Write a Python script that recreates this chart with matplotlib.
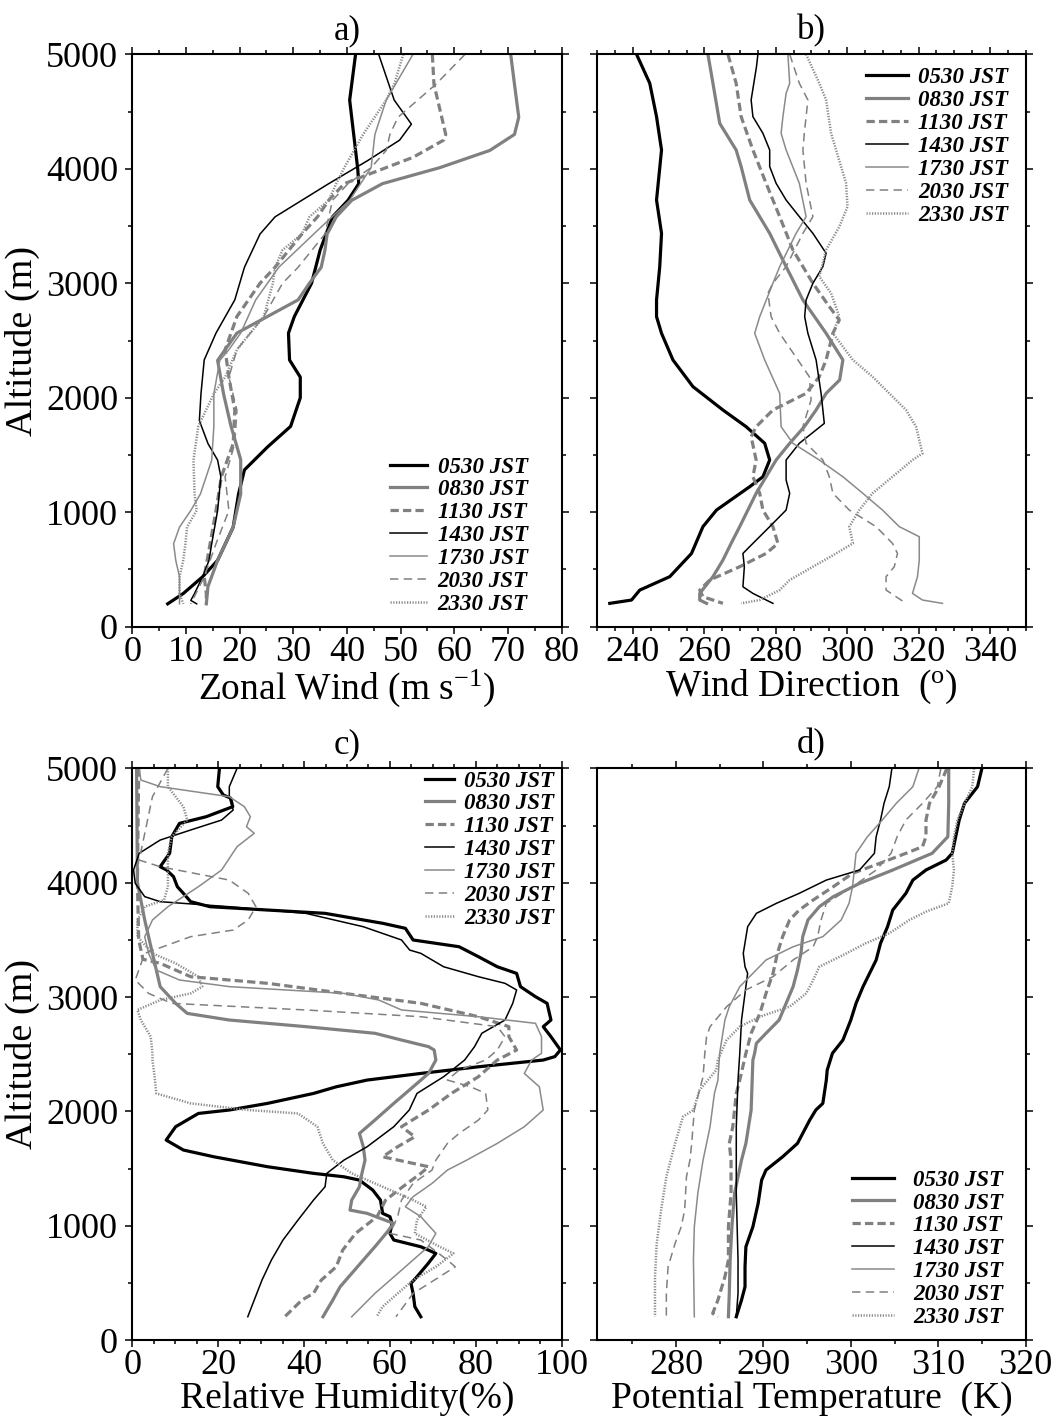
import matplotlib
matplotlib.use("Agg")
import matplotlib.pyplot as plt
from matplotlib.ticker import MultipleLocator

plt.rcParams['font.family'] = ['Liberation Serif', 'DejaVu Serif']
plt.rcParams['mathtext.fontset'] = 'custom'
plt.rcParams['mathtext.rm'] = 'Liberation Serif'
plt.rcParams['mathtext.it'] = 'Liberation Serif:italic'
plt.rcParams['mathtext.bf'] = 'Liberation Serif:bold'

times = ["0530 JST", "0830 JST", "1130 JST", "1430 JST", "1730 JST", "2030 JST", "2330 JST"]

# ---------------- a) zonal wind (m/s) : (values, altitudes) ----------------
zonal_wind = {
    "0530 JST": ([41.6, 40.5, 42.0, 42.2, 40.2, 37.3, 35.0, 33.4, 30.2, 29.1, 29.3, 31.3, 31.3, 29.5, 25.2,
                  20.9, 19.8, 18.8, 15.9, 13.1, 9.5, 6.6],
                 [5000, 4600, 4000, 3870, 3725, 3580, 3290, 3000, 2710, 2565, 2330, 2180, 2000, 1750, 1570,
                  1370, 1160, 870, 580, 436, 290, 200]),
    "0830 JST": ([70.5, 71.2, 72.0, 71.2, 66.6, 57.3, 46.6, 40.9, 38.0, 36.3, 35.9, 35.2, 33.0, 30.9, 25.2,
                  19.5, 17.3, 15.9, 17.0, 18.4, 20.2, 20.2, 18.8, 15.9, 14.1, 13.8],
                 [5000, 4740, 4450, 4300, 4160, 4010, 3870, 3725, 3580, 3430, 3290, 3140, 3000, 2855, 2710,
                  2565, 2420, 2326, 2035, 1750, 1460, 1160, 870, 580, 350, 200]),
    "1130 JST": ([55.9, 56.2, 58.4, 58.0, 52.3, 44.5, 39.5, 36.6, 34.5, 31.6, 26.6, 23.8, 19.5, 17.3, 18.0,
                  19.1, 18.8, 16.6, 15.6, 14.5, 13.4, 13.8, 13.8],
                 [5000, 4740, 4300, 4250, 4100, 3960, 3870, 3725, 3580, 3430, 3140, 3000, 2710, 2420, 2180,
                  1890, 1600, 1310, 1015, 725, 436, 290, 200]),
    "1430 JST": ([45.9, 48.8, 52.0, 49.8, 43.8, 36.6, 31.6, 26.6, 23.8, 20.9, 19.1, 15.6, 13.4, 12.8, 12.5,
                  14.1, 15.9, 16.5, 15.9, 14.8, 14.3, 13.1, 11.6, 10.9, 12.0],
                 [5000, 4600, 4390, 4250, 4070, 3870, 3725, 3580, 3430, 3140, 2855, 2565, 2330, 2035, 1800,
                  1600, 1455, 1310, 1015, 725, 580, 436, 290, 230, 200]),
    "1730 JST": ([52.3, 47.3, 45.2, 44.5, 40.5, 33.8, 27.3, 23.0, 20.2, 18.0, 16.3, 15.2, 15.2, 14.8, 12.7,
                  10.9, 8.8, 7.7, 8.1, 8.8, 8.8, 8.8],
                 [5000, 4600, 4300, 4010, 3725, 3430, 3140, 2855, 2565, 2420, 2326, 2035, 1750, 1455, 1160,
                  1015, 870, 725, 580, 436, 290, 200]),
    "2030 JST": ([62.0, 56.6, 49.5, 48.0, 47.3, 44.5, 40.2, 37.3, 35.9, 30.9, 28.0, 24.5, 19.5, 18.0, 19.5,
                  19.1, 17.3, 18.0, 15.6, 13.4, 10.9],
                 [5000, 4740, 4450, 4300, 4160, 4010, 3870, 3725, 3430, 3140, 3000, 2710, 2420, 2180, 1890,
                  1600, 1310, 1015, 725, 436, 200]),
    "2330 JST": ([50.5, 48.8, 47.3, 43.0, 39.5, 38.0, 36.6, 33.0, 31.6, 28.0, 26.6, 26.2, 24.5, 19.5, 17.3,
                  15.2, 12.3, 11.4, 11.6, 12.0, 10.2, 9.9, 9.5, 8.8, 8.8, 9.5],
                 [5000, 4740, 4600, 4300, 4010, 3870, 3725, 3580, 3430, 3290, 3140, 3000, 2710, 2420, 2180,
                  2035, 1750, 1455, 1160, 1015, 870, 725, 580, 436, 290, 200]),
}

# ---------------- b) wind direction (deg) ----------------
wind_direction = {
    "0530 JST": ([241.0, 244.7, 246.6, 248.0, 246.6, 248.0, 247.5, 246.6, 246.6, 248.0, 251.2, 256.8, 265.2,
                  271.7, 276.9, 278.3, 276.4, 272.7, 263.4, 259.6, 256.4, 250.3, 241.9, 239.6, 233.5],
                 [5000, 4747, 4455, 4164, 3727, 3436, 3145, 2854, 2708, 2563, 2330, 2097, 1893, 1747, 1602,
                  1456, 1310, 1223, 1019, 874, 640, 437, 320, 233, 204]),
    "0830 JST": ([261.0, 262.4, 264.3, 268.9, 270.3, 272.7, 278.3, 282.9, 287.6, 294.1, 298.8, 297.9, 294.1,
                  291.3, 288.0, 283.9, 280.1, 274.5, 269.9, 267.5, 265.2, 262.4, 258.7, 258.7, 260.6],
                 [5000, 4747, 4397, 4164, 4019, 3727, 3436, 3145, 2854, 2563, 2330, 2155, 2038, 1893, 1747,
                  1602, 1456, 1165, 874, 728, 582, 437, 291, 233, 204]),
    "1130 JST": ([266.6, 268.9, 270.3, 273.6, 277.3, 281.1, 284.8, 290.4, 295.0, 297.8, 296.0, 294.1, 292.2,
                  288.5, 279.2, 274.5, 273.1, 274.5, 273.6, 275.5, 276.4, 279.2, 280.6, 277.3, 269.9, 261.5,
                  258.7, 259.6, 265.2],
                 [5000, 4747, 4455, 4164, 3873, 3582, 3291, 3000, 2796, 2679, 2563, 2330, 2184, 2038, 1893,
                  1747, 1660, 1456, 1310, 1165, 1019, 874, 728, 640, 524, 408, 320, 262, 204]),
    "1430 JST": ([275.0, 274.6, 273.1, 273.6, 276.4, 278.3, 278.3, 280.1, 282.9, 286.6, 290.4, 294.1, 293.2,
                  290.4, 288.5, 288.1, 289.0, 291.3, 292.7, 293.6, 286.6, 282.9, 282.9, 283.9, 282.9, 278.3,
                  273.6, 270.8, 271.2, 270.8, 273.6, 279.2],
                 [5000, 4892, 4601, 4455, 4310, 4164, 4019, 3873, 3727, 3582, 3436, 3262, 3145, 3000, 2854,
                  2708, 2563, 2330, 2038, 1776, 1602, 1456, 1281, 1165, 1019, 874, 728, 640, 524, 349, 291,
                  204]),
    "1730 JST": ([283.4, 283.9, 282.9, 282.0, 281.5, 282.9, 286.6, 288.5, 285.7, 281.1, 279.2, 275.5, 274.1,
                  276.9, 281.1, 281.5, 284.8, 292.2, 298.8, 304.4, 309.9, 314.6, 320.2, 320.2, 319.7, 318.3,
                  321.1, 326.7],
                 [5000, 4747, 4659, 4455, 4310, 4164, 3873, 3582, 3436, 3145, 3000, 2708, 2563, 2330, 2038,
                  1747, 1602, 1456, 1310, 1165, 1019, 874, 786, 582, 437, 291, 233, 204]),
    "2030 JST": ([283.9, 286.6, 289.0, 288.0, 287.6, 288.5, 290.4, 287.6, 282.9, 279.2, 277.8, 278.7, 281.1,
                  286.2, 289.4, 289.9, 287.6, 288.5, 293.2, 295.0, 296.0, 300.6, 308.1, 312.7, 314.1, 313.2,
                  310.9, 310.9, 316.5],
                 [5000, 4747, 4601, 4310, 4164, 3873, 3582, 3436, 3145, 3000, 2913, 2708, 2563, 2330, 2184,
                  1980, 1747, 1602, 1456, 1310, 1165, 1019, 874, 728, 640, 524, 437, 320, 204]),
    "2330 JST": ([288.5, 292.2, 294.1, 295.5, 298.3, 299.7, 300.1, 297.8, 294.1, 292.2, 295.5, 297.8, 296.0,
                  301.6, 307.1, 311.8, 316.5, 319.3, 321.1, 318.3, 312.7, 307.1, 303.4, 300.6, 301.6, 296.9,
                  290.4, 283.9, 281.1, 275.5, 270.3],
                 [5000, 4747, 4601, 4310, 4019, 3873, 3669, 3494, 3291, 3058, 2913, 2708, 2563, 2330, 2184,
                  2038, 1893, 1747, 1514, 1456, 1310, 1165, 1019, 874, 728, 640, 524, 408, 320, 233, 204]),
}

# ---------------- c) relative humidity (%) ----------------
relative_humidity = {
    "0530 JST": ([20.3, 19.9, 21.2, 22.9, 23.4, 17.2, 11.0, 9.2, 8.7, 6.5, 8.0, 9.6, 10.5, 11.9, 13.6,
                  18.1, 31.5, 44.9, 58.3, 63.6, 65.4, 76.1, 80.6, 85.0, 89.5, 90.4, 93.9, 96.6, 97.5, 95.7,
                  97.5, 99.7, 98.4, 95.7, 80.6, 67.2, 54.7, 47.5, 42.2, 31.5, 22.6, 15.4, 10.1, 7.9, 11.9,
                  19.0, 31.5, 42.2, 49.3, 52.9, 56.0, 57.8, 58.3, 60.0, 60.5, 60.0, 60.9, 67.2, 70.7, 68.9,
                  66.3, 64.9, 65.4, 65.8, 67.2],
                 [5000, 4840, 4767, 4740, 4665, 4577, 4519, 4402, 4257, 4140, 4111, 4053, 3965, 3907, 3834,
                  3790, 3761, 3732, 3645, 3601, 3499, 3440, 3353, 3265, 3207, 3091, 3003, 2945, 2799, 2741,
                  2653, 2537, 2479, 2449, 2390, 2332, 2274, 2215, 2157, 2070, 2012, 1982, 1866, 1749, 1662,
                  1603, 1516, 1458, 1428, 1399, 1312, 1224, 1108, 1079, 1020, 933, 875, 816, 758, 670,
                  554, 496, 408, 292, 204]),
    "0830 JST": ([1.0, 1.2, 2.9, 4.7, 6.5, 10.1, 12.8, 22.6, 40.4, 56.5, 62.7, 69.0, 70.3, 70.7, 69.0,
                  65.4, 60.9, 56.5, 52.9, 53.8, 54.2, 53.3, 52.9, 51.1, 50.7, 54.7, 60.9, 59.1, 56.5, 53.8,
                  51.1, 48.4, 46.7, 44.4],
                 [5000, 4000, 3674, 3382, 3091, 2945, 2857, 2799, 2741, 2683, 2624, 2566, 2537, 2449, 2332,
                  2215, 2070, 1924, 1807, 1691, 1574, 1428, 1341, 1224, 1137, 1108, 1020, 933, 816, 700,
                  583, 466, 350, 204]),
    "1130 JST": ([1.5, 1.2, 1.5, 2.5, 6.5, 13.6, 31.5, 49.3, 67.2, 80.6, 87.7, 87.7, 89.5, 85.0, 80.6,
                  74.3, 69.0, 62.7, 65.8, 61.8, 58.3, 69.0, 67.2, 63.0, 59.0, 57.0, 52.0, 49.0, 47.5, 44.0,
                  42.2, 39.5, 35.5],
                 [5000, 4000, 3500, 3330, 3295, 3178, 3120, 3032, 2945, 2828, 2741, 2653, 2537, 2449, 2303,
                  2157, 2012, 1866, 1778, 1691, 1603, 1516, 1458, 1341, 1224, 1079, 933, 787, 641, 524,
                  408, 350, 204]),
    "1430 JST": ([24.4, 22.6, 22.6, 23.5, 20.8, 13.6, 6.5, 1.6, 0.3, 0.7, 2.9, 6.5, 22.6, 40.4, 53.8,
                  62.7, 64.6, 67.2, 72.5, 80.6, 86.8, 89.5, 88.6, 86.8, 81.4, 79.7, 77.4, 72.5, 66.3, 64.5,
                  60.9, 54.7, 49.3, 45.3, 44.9, 42.2, 38.6, 35.1, 32.4, 30.2, 28.4, 26.9],
                 [5000, 4840, 4752, 4636, 4548, 4461, 4373, 4257, 4111, 3994, 3878, 3834, 3790, 3732, 3615,
                  3499, 3411, 3382, 3265, 3178, 3120, 3062, 2945, 2799, 2683, 2566, 2449, 2303, 2157, 2012,
                  1866, 1691, 1574, 1458, 1341, 1224, 1050, 875, 700, 524, 350, 204]),
    "1730 JST": ([1.6, 2.0, 6.5, 22.6, 26.1, 27.5, 26.6, 28.4, 24.4, 20.8, 15.4, 8.3, 4.7, 2.9, 3.8,
                  5.6, 11.0, 22.6, 49.3, 57.4, 62.7, 80.6, 93.9, 95.3, 95.3, 93.0, 91.3, 94.8, 95.7, 91.3,
                  85.0, 77.9, 73.4, 69.8, 65.4, 63.6, 67.2, 70.7, 68.9, 63.6, 56.5, 51.1],
                 [5000, 4898, 4840, 4752, 4665, 4577, 4490, 4432, 4315, 4111, 3965, 3790, 3674, 3528, 3382,
                  3236, 3149, 3091, 3032, 2974, 2887, 2828, 2770, 2653, 2508, 2449, 2332, 2215, 2012, 1866,
                  1720, 1574, 1487, 1370, 1254, 1166, 1079, 933, 816, 641, 408, 204]),
    "2030 JST": ([8.3, 4.7, 1.6, 6.5, 22.6, 27.0, 28.8, 27.0, 23.5, 13.6, 2.9, 0.7, 3.8, 9.2, 40.4,
                  67.2, 85.0, 86.8, 85.0, 82.3, 76.1, 73.4, 78.8, 82.3, 82.8, 80.6, 76.1, 73.4, 70.7, 69.8,
                  65.4, 62.7, 61.8, 60.0, 67.2, 73.4, 75.2, 71.6, 65.4, 61.4],
                 [5000, 4752, 4198, 4140, 4023, 3907, 3790, 3674, 3586, 3528, 3382, 3149, 3032, 2945, 2887,
                  2828, 2741, 2653, 2537, 2449, 2361, 2274, 2215, 2157, 2012, 1924, 1807, 1720, 1574, 1487,
                  1370, 1224, 1079, 933, 875, 700, 641, 554, 408, 204]),
    "2330 JST": ([8.3, 8.3, 11.9, 12.8, 9.2, 8.3, 8.3, 7.4, 2.9, 1.2, 1.2, 4.7, 10.1, 15.4, 16.3,
                  13.6, 6.5, 1.2, 2.0, 4.3, 4.7, 4.7, 5.2, 5.6, 13.6, 27.0, 38.6, 43.1, 44.4, 46.7,
                  51.1, 58.3, 65.4, 68.5, 66.3, 65.8, 71.6, 74.8, 70.7, 65.4, 61.8, 58.3, 56.9],
                 [5000, 4840, 4665, 4548, 4402, 4257, 3965, 3849, 3790, 3674, 3528, 3382, 3295, 3178, 3091,
                  3032, 2974, 2887, 2799, 2653, 2508, 2449, 2303, 2157, 2070, 2012, 1982, 1866, 1720, 1574,
                  1458, 1341, 1224, 1166, 1050, 933, 816, 758, 641, 524, 408, 292, 204]),
}

# ---------------- d) potential temperature (K) ----------------
potential_temperature = {
    "0530 JST": ([315.0, 314.5, 313.0, 312.4, 312.0, 311.6, 310.9, 308.6, 307.1, 306.3, 304.8, 304.2, 303.4,
                  302.9, 301.4, 300.6, 300.0, 299.1, 297.9, 297.3, 297.2, 296.8, 296.0, 295.3, 293.9, 292.2,
                  290.3, 289.8, 289.4, 288.8, 288.0, 287.9, 287.9, 287.5, 286.9],
                 [5000, 4840, 4694, 4548, 4402, 4257, 4198, 4111, 4023, 3907, 3761, 3615, 3470, 3324, 3091,
                  2945, 2799, 2624, 2508, 2361, 2274, 2070, 2012, 1924, 1720, 1603, 1487, 1399, 1195, 991,
                  816, 641, 466, 350, 204]),
    "0830 JST": ([311.2, 311.2, 311.1, 309.3, 304.8, 301.0, 298.0, 296.4, 295.1, 294.5, 294.3, 293.9, 293.4,
                  292.6, 291.8, 290.3, 289.2, 289.0, 288.8, 288.6, 288.0, 287.5, 287.1, 286.7, 286.4, 286.2,
                  286.1, 286.0],
                 [5000, 4694, 4402, 4257, 4111, 3994, 3878, 3790, 3674, 3528, 3382, 3236, 3091, 2945, 2799,
                  2683, 2595, 2508, 2449, 2012, 1720, 1574, 1428, 1283, 991, 700, 408, 204]),
    "1130 JST": ([311.0, 310.1, 309.0, 308.6, 308.6, 308.2, 306.3, 303.3, 300.2, 298.0, 295.7, 294.1, 293.0,
                  292.2, 291.6, 291.1, 290.3, 289.6, 288.6, 288.0, 287.3, 286.9, 286.5, 286.1, 286.3, 286.3,
                  286.0, 286.0, 285.6, 284.8, 284.2, 284.8],
                 [5000, 4840, 4694, 4548, 4402, 4315, 4257, 4169, 4082, 3965, 3849, 3761, 3674, 3528, 3382,
                  3207, 3032, 2857, 2683, 2508, 2274, 2157, 1866, 1720, 1574, 1283, 991, 700, 554, 350, 233,
                  204]),
    "1430 JST": ([304.7, 304.4, 303.8, 303.4, 302.9, 302.7, 301.0, 297.2, 294.1, 291.5, 289.2, 288.2, 287.7,
                  287.9, 288.2, 288.0, 287.5, 287.3, 287.1, 286.9, 286.9, 287.1, 287.1, 286.9],
                 [5000, 4840, 4694, 4548, 4402, 4257, 4111, 4023, 3907, 3820, 3732, 3615, 3382, 3265, 3207,
                  3091, 2799, 2508, 2274, 1866, 1283, 700, 408, 204]),
    "1730 JST": ([307.8, 307.1, 305.2, 303.6, 301.9, 300.6, 300.4, 300.2, 299.8, 298.9, 296.8, 293.4, 290.3,
                  288.8, 287.3, 286.1, 285.6, 285.0, 284.8, 284.4, 283.9, 283.1, 282.5, 282.1, 282.0, 282.1],
                 [5000, 4840, 4694, 4548, 4402, 4257, 4111, 3965, 3820, 3674, 3528, 3440, 3324, 3207, 3091,
                  2916, 2799, 2508, 2274, 2157, 1866, 1574, 1283, 991, 700, 204]),
    "2030 JST": ([310.3, 309.9, 308.2, 306.3, 305.3, 304.6, 302.9, 300.2, 297.2, 296.6, 296.2, 295.7, 293.4,
                  291.1, 288.0, 285.8, 283.9, 283.5, 283.3, 283.1, 282.1, 281.8, 281.6, 281.2, 281.0, 280.6,
                  279.9, 279.1, 278.9, 278.9],
                 [5000, 4840, 4694, 4548, 4402, 4257, 4111, 3965, 3820, 3674, 3528, 3440, 3324, 3178, 3062,
                  2916, 2741, 2653, 2508, 2303, 2012, 1720, 1574, 1428, 1137, 991, 845, 641, 408, 204]),
    "2330 JST": ([314.1, 313.9, 313.0, 312.2, 311.8, 311.6, 311.8, 311.6, 311.2, 308.6, 306.7, 304.4, 301.7,
                  299.5, 296.4, 295.7, 294.9, 293.0, 289.6, 287.3, 285.8, 284.8, 284.6, 282.7, 282.0, 280.8,
                  279.9, 278.9, 278.3, 277.8, 277.6, 277.6],
                 [5000, 4840, 4694, 4548, 4402, 4257, 4111, 3965, 3820, 3747, 3674, 3557, 3470, 3382, 3265,
                  3149, 3032, 2916, 2828, 2741, 2624, 2449, 2361, 2186, 2012, 1953, 1720, 1428, 1137, 845,
                  554, 204]),
}

GRAY = "#808080"
line_styles = {
    "0530 JST": dict(color="black", lw=2.3, ls="-"),
    "0830 JST": dict(color=GRAY, lw=2.3, ls="-"),
    "1130 JST": dict(color=GRAY, lw=2.3, ls=(0, (2.6, 1.3))),
    "1430 JST": dict(color="black", lw=1.1, ls="-"),
    "1730 JST": dict(color="#8a8a8a", lw=1.1, ls="-"),
    "2030 JST": dict(color=GRAY, lw=1.1, ls=(0, (5.5, 3.5))),
    "2330 JST": dict(color="#8a8a8a", lw=1.8, ls=(0, (0.5, 0.6))),
}

fig = plt.figure(figsize=(10.59, 14.25), dpi=100)

panels = [
    dict(data=zonal_wind, rect=[0.1249, 0.5602, 0.4055, 0.4017], xlim=(0, 80), major=10, minor=5,
         xlabel="Zonal Wind (m s$^{-1}$)", title="a)", ylab=True,
         leg=dict(anchor=(0.600, 0.2973), hl=1.6, pad=0.48)),
    dict(data=wind_direction, rect=[0.5640, 0.5602, 0.4045, 0.4017], xlim=(230, 350), major=20, minor=5,
         xlabel="Wind Direction  ($^{\\rm o}$)", title="b)", ylab=False,
         leg=dict(anchor=(0.627, 0.977), hl=1.83, pad=0.44)),
    dict(data=relative_humidity, rect=[0.1249, 0.0596, 0.4055, 0.4012], xlim=(0, 100), major=20, minor=5,
         xlabel="Relative Humidity(%)", title="c)", ylab=True,
         leg=dict(anchor=(0.682, 0.9962), hl=1.27, pad=0.44)),
    dict(data=potential_temperature, rect=[0.5640, 0.0596, 0.4045, 0.4012], xlim=(271, 320), major=10,
         minor=5, xlabel="Potential Temperature  (K)", title="d)", ylab=False,
         leg=dict(anchor=(0.5945, 0.2982), hl=1.83, pad=0.84)),
]

for p in panels:
    ax = fig.add_axes(p["rect"])
    handles = []
    for t in times:
        vals, alt = p["data"][t]
        ln, = ax.plot(vals, alt, label=t, solid_joinstyle="round", **line_styles[t])
        handles.append(ln)

    ax.set_xlim(*p["xlim"])
    ax.set_ylim(0, 5000)
    ax.xaxis.set_major_locator(MultipleLocator(p["major"]))
    ax.xaxis.set_minor_locator(MultipleLocator(p["minor"]))
    ax.yaxis.set_major_locator(MultipleLocator(1000))
    ax.yaxis.set_minor_locator(MultipleLocator(500))
    ax.tick_params(which="both", direction="out", top=True, right=True, width=1.1, labelsize=26,
                   color="black")
    ax.tick_params(which="major", length=5.2)
    ax.tick_params(which="minor", length=2.6)
    ax.tick_params(axis="x", pad=1.5)
    ax.tick_params(axis="y", pad=5)
    if not p["ylab"]:
        ax.tick_params(axis="y", labelleft=False)
    else:
        ax.set_ylabel("Altitude (m)", fontsize=27.5, labelpad=4)
    for s in ax.spines.values():
        s.set_linewidth(1.5)
    ax.set_xlabel(p["xlabel"], fontsize=27, labelpad=-1)
    ax.set_title(p["title"], fontsize=25, pad=11)

    lg = p["leg"]
    ax.legend(handles=handles, loc="upper left", bbox_to_anchor=lg["anchor"], frameon=False,
              prop=dict(family="Liberation Serif", weight="bold", style="italic", size=16.5),
              handlelength=lg["hl"], handletextpad=lg["pad"], labelspacing=0.08,
              borderpad=0, borderaxespad=0)

fig.savefig("out.png", dpi=100)
